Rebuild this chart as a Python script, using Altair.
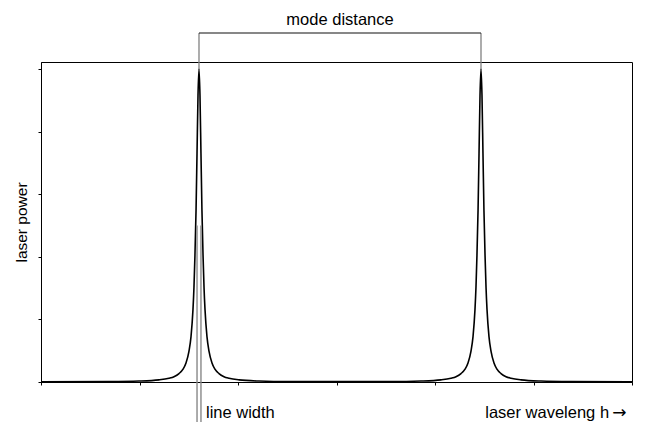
import altair as alt
import pandas as pd

# --- data ---
peak_centers = [1.604, 4.467]          # wavelength of the two modes (x units, ticks 0..6)
# one-sided profile of each peak: offset from the centre and relative power
profile_offsets = [0.0, 0.010, 0.020, 0.030, 0.041, 0.051, 0.061, 0.081, 0.102,
                   0.132, 0.162, 0.203, 0.254, 0.305, 0.406, 0.609, 0.914]
profile_levels = [1.0, 0.916, 0.731, 0.548, 0.405, 0.303, 0.232, 0.145, 0.098,
                  0.061, 0.041, 0.027, 0.017, 0.012, 0.0068, 0.003, 0.0013]
edge_x = [0.0, 3.036, 6.0]             # left end, middle between modes, right end
edge_y = [0.0004, 0.0012, 0.0005]

x_ticks = [0, 1, 2, 3, 4, 5, 6]
y_ticks = [0, 0.2, 0.4, 0.6, 0.8, 1.0]

linewidth_half = 0.02
linewidth_top = 0.5
below_axis = -0.131
mode_bar_level = 1.115
label_level = -0.115
mode_label_level = 1.1406

# --- build the curve table ---
rows = [(edge_x[0], edge_y[0])]
for i, c in enumerate(peak_centers):
    for o, l in zip(reversed(profile_offsets[1:]), reversed(profile_levels[1:])):
        rows.append((c - o, l))
    rows.append((c, profile_levels[0]))
    for o, l in zip(profile_offsets[1:], profile_levels[1:]):
        rows.append((c + o, l))
    if i == 0:
        rows.append((edge_x[1], edge_y[1]))
rows.append((edge_x[2], edge_y[2]))
curve_df = pd.DataFrame(rows, columns=["wl", "power"])

FONT = "Liberation Sans"
xs = alt.Scale(domain=[0, 6], nice=False, zero=False)
ys = alt.Scale(domain=[0, 1.0224], nice=False, zero=False)

curve = alt.Chart(curve_df).mark_line(
    color="black", strokeWidth=1.6, interpolate="monotone"
).encode(
    x=alt.X("wl:Q", scale=xs,
            axis=alt.Axis(values=x_ticks, labels=False, title=None, grid=False,
                          tickSize=3, domainColor="black", tickColor="black")),
    y=alt.Y("power:Q", scale=ys,
            axis=alt.Axis(values=y_ticks, labels=False, title="laser power", grid=False,
                          tickSize=3, domainColor="black", tickColor="black",
                          titleFont=FONT, titleFontSize=15.5, titleFontWeight="normal",
                          titleColor="black", titlePadding=8)),
)

lw_df = pd.DataFrame({
    "x": [peak_centers[0] - linewidth_half, peak_centers[0] + linewidth_half],
    "y": [linewidth_top, linewidth_top],
    "y2": [below_axis, below_axis],
})
lw_rules = alt.Chart(lw_df).mark_rule(color="#888888", strokeWidth=1.4).encode(
    x=alt.X("x:Q", scale=xs), y=alt.Y("y:Q", scale=ys), y2="y2:Q"
)

md_df = pd.DataFrame({
    "x": peak_centers,
    "y": [1.0, 1.0],
    "y2": [mode_bar_level, mode_bar_level],
})
md_vert = alt.Chart(md_df).mark_rule(color="#808080", strokeWidth=1.3).encode(
    x=alt.X("x:Q", scale=xs), y=alt.Y("y:Q", scale=ys), y2="y2:Q"
)
md_bar_df = pd.DataFrame({"x": [peak_centers[0]], "x2": [peak_centers[1]],
                          "y": [mode_bar_level]})
md_bar = alt.Chart(md_bar_df).mark_rule(color="#111111", strokeWidth=1.2).encode(
    x=alt.X("x:Q", scale=xs), x2="x2:Q", y=alt.Y("y:Q", scale=ys)
)

text_df = pd.DataFrame({
    "x": [peak_centers[0] + 0.071, 4.51],
    "y": [label_level, label_level],
    "t": ["line width", "laser waveleng h"],
})
texts = alt.Chart(text_df).mark_text(
    align="left", baseline="alphabetic", font=FONT, fontSize=16.5, color="black"
).encode(x=alt.X("x:Q", scale=xs), y=alt.Y("y:Q", scale=ys), text="t:N")

arrow_df = pd.DataFrame({"x": [5.80], "y": [label_level], "t": ["\u2192"]})
arrow = alt.Chart(arrow_df).mark_text(
    align="left", baseline="alphabetic", font="DejaVu Sans", fontSize=17, color="black"
).encode(x=alt.X("x:Q", scale=xs), y=alt.Y("y:Q", scale=ys), text="t:N")

md_text_df = pd.DataFrame({"x": [(peak_centers[0] + peak_centers[1]) / 2],
                           "y": [mode_label_level], "t": ["mode distance"]})
md_text = alt.Chart(md_text_df).mark_text(
    align="center", baseline="alphabetic", font=FONT, fontSize=16.5, color="black"
).encode(x=alt.X("x:Q", scale=xs), y=alt.Y("y:Q", scale=ys), text="t:N")

chart = alt.layer(curve, lw_rules, md_vert, md_bar, texts, arrow, md_text).properties(
    width=591, height=320,
    autosize=alt.AutoSizeParams(type="none"),
    padding={"left": 33, "top": 54, "right": 8, "bottom": 40},
).configure_view(stroke="black", strokeWidth=1)

chart.save("out.html", embed_options={"renderer": "svg", "actions": False})
